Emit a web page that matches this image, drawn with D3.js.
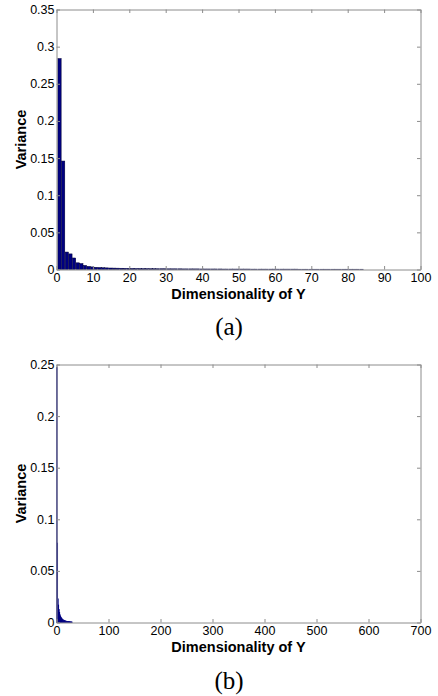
<!DOCTYPE html>
<html><head><meta charset="utf-8">
<script src="https://cdn.jsdelivr.net/npm/d3@7"></script>
<style>body{margin:0;background:#fff}svg{display:block}</style>
</head><body>
<script>
// Panel (a): variance per dimension (1..84)
const varianceA = [0.284,0.146,0.0235,0.021,0.0155,0.009,0.008,0.0055,0.0042,0.0035,
 0.003,0.0027,0.0024,0.0022,0.002,0.0019,0.0018,0.0017,0.0016,0.0015,
 0.0014,0.0013,0.0013,0.0012,0.0012,0.0011,0.0011,0.001,0.001,0.001,
 0.0009,0.0009,0.0009,0.0009,0.0008,0.0008,0.0008,0.0008,0.0008,0.0007,
 0.0007,0.0007,0.0007,0.0007,0.0007,0.0006,0.0006,0.0006,0.0006,0.0006,
 0.0006,0.0006,0.0006,0.0005,0.0005,0.0005,0.0005,0.0005,0.0005,0.0005,
 0.0005,0.0005,0.0005,0.0005,0.0005,0.0005,0.0004,0.0004,0.0004,0.0004,
 0.0004,0.0004,0.0004,0.0004,0.0004,0.0004,0.0004,0.0004,0.0004,0.0004,
 0.0004,0.0004,0.0004,0.0004];
// Panel (b): variance per dimension (1..30)
const varianceB = [0.247,0.077,0.023,0.017,0.0125,0.0095,0.0075,0.006,0.005,0.0042,
 0.0036,0.003,0.0026,0.0023,0.002,0.0018,0.0016,0.0014,0.0013,0.0012,
 0.0011,0.001,0.0009,0.0008,0.0008,0.0007,0.0007,0.0006,0.0006,0.0005];
const yTicksA = [0,0.05,0.1,0.15,0.2,0.25,0.3,0.35];
const xTicksA = [0,10,20,30,40,50,60,70,80,90,100];
const yTicksB = [0,0.05,0.1,0.15,0.2,0.25];
const xTicksB = [0,100,200,300,400,500,600,700];
const xLabel = "Dimensionality of Y";
const yLabel = "Variance";
const captions = ["(a)","(b)"];

const W = 438, H = 696;
const svg = d3.select("body").append("svg").attr("width",W).attr("height",H);

function panel(cfg){
  const {data, yMax, xMax, yTicks, xTicks, top, bottom, left, right, caption, capY, xlY} = cfg;
  const x = d3.scaleLinear().domain([0,xMax]).range([left,right]);
  const y = d3.scaleLinear().domain([0,yMax]).range([bottom,top]);
  const g = svg.append("g");
  // bars
  g.selectAll("rect.bar").data(data).enter().append("rect")
    .attr("x",(d,i)=>x(i+1-0.62))
    .attr("width",(d,i)=>Math.max(x(i+1+0.28)-x(i+1-0.62), 0.5))
    .attr("y",d=>y(d))
    .attr("height",d=>y(0)-y(d))
    .attr("fill","#000080")
    .attr("stroke", cfg.thin ? "#000080" : "#000033")
    .attr("stroke-width", cfg.thin ? 0.6 : 0.5);
  const axColor = "#8c8c8c";
  const fmt = d=>String(d);
  const ax = (axis)=>axis.tickSizeOuter(0).tickSizeInner(-3.5).tickPadding(4);
  const bAx = g.append("g").attr("transform",`translate(0,${bottom})`).call(ax(d3.axisBottom(x).tickValues(xTicks).tickFormat(fmt)));
  const tAx = g.append("g").attr("transform",`translate(0,${top})`).call(ax(d3.axisTop(x).tickValues(xTicks).tickFormat("")));
  const lAx = g.append("g").attr("transform",`translate(${left},0)`).call(ax(d3.axisLeft(y).tickValues(yTicks).tickFormat(fmt)));
  const rAx = g.append("g").attr("transform",`translate(${right},0)`).call(ax(d3.axisRight(y).tickValues(yTicks).tickFormat("")));
  [bAx,tAx,lAx,rAx].forEach(a=>{
    a.select(".domain").attr("stroke",axColor).attr("stroke-width",1);
    a.selectAll(".tick line").attr("stroke",axColor);
    a.selectAll("text").attr("fill","#000").attr("font-family","'Liberation Sans', Arial, sans-serif").attr("font-size",12.5);
  });
  lAx.selectAll("text").attr("dx",2);
  g.append("text").attr("x",(left+right)/2).attr("y",xlY).attr("text-anchor","middle")
    .attr("font-family","'Liberation Sans', Arial, sans-serif").attr("font-weight","bold").attr("font-size",14.5)
    .text(xLabel);
  g.append("text").attr("transform",`translate(26,${(top+bottom)/2}) rotate(-90)`).attr("text-anchor","middle")
    .attr("font-family","'Liberation Sans', Arial, sans-serif").attr("font-weight","bold").attr("font-size",14.5)
    .text(yLabel);
  g.append("text").attr("x",229).attr("y",capY).attr("text-anchor","middle")
    .attr("font-family","'Liberation Serif', 'Times New Roman', serif").attr("font-size",25)
    .text(caption);
}

panel({data:varianceA, yMax:0.35, xMax:100, yTicks:yTicksA, xTicks:xTicksA,
  top:9.5, bottom:269.5, left:56.5, right:420.5, caption:captions[0], capY:335, xlY:299});
panel({data:varianceB, yMax:0.25, xMax:700, yTicks:yTicksB, xTicks:xTicksB, thin:true,
  top:364.5, bottom:622.5, left:56.5, right:420.5, caption:captions[1], capY:689, xlY:652});
</script>
</body></html>
